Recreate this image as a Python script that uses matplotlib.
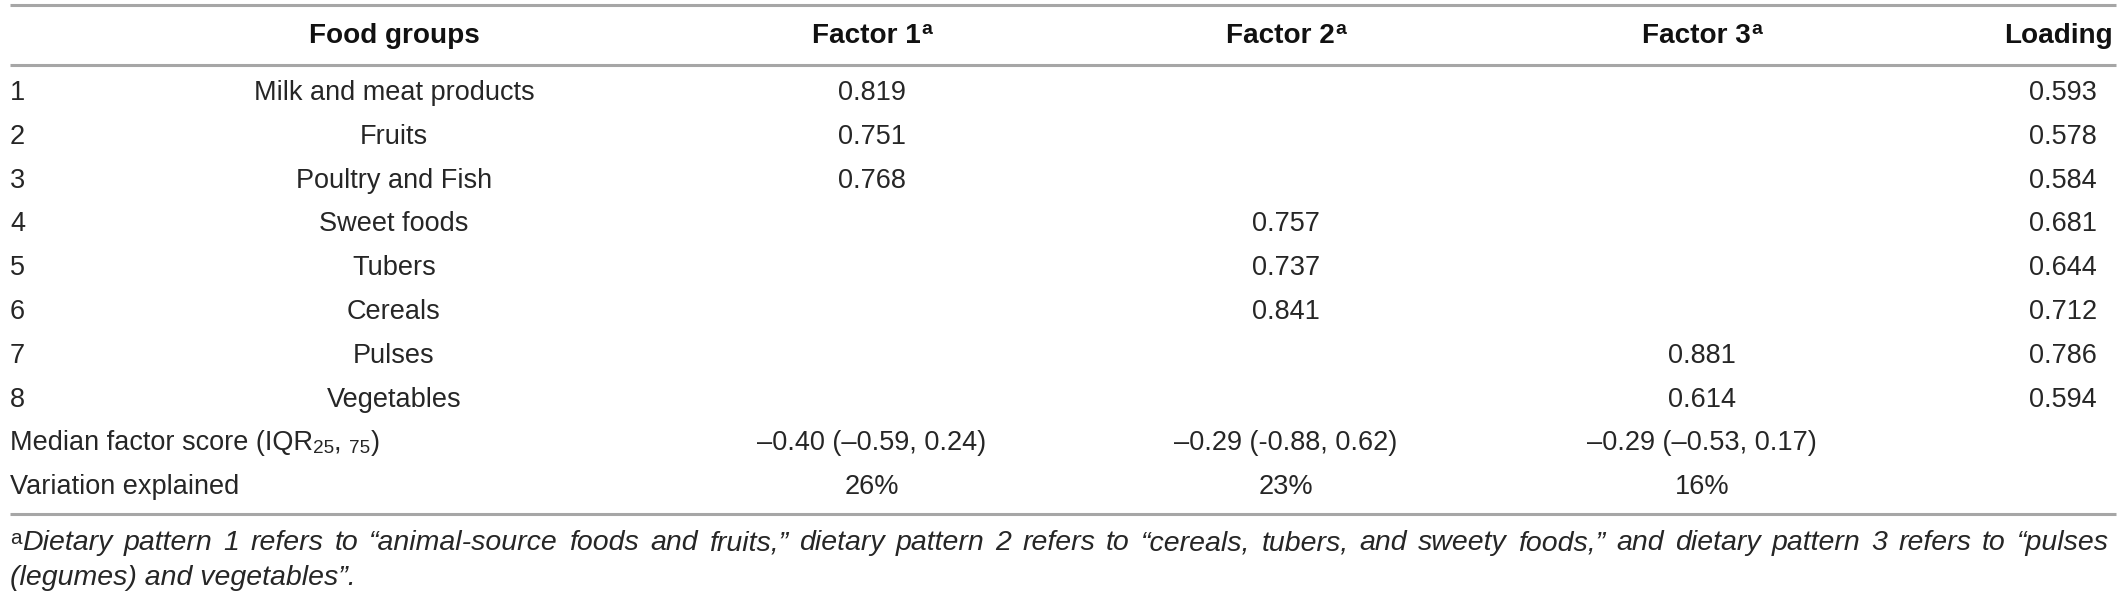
import matplotlib
matplotlib.use("Agg")
import matplotlib.pyplot as plt

# Table content
row_numbers = ["1", "2", "3", "4", "5", "6", "7", "8"]
food_groups = ["Milk and meat products", "Fruits", "Poultry and Fish", "Sweet foods",
               "Tubers", "Cereals", "Pulses", "Vegetables"]
factor1 = ["0.819", "0.751", "0.768", "", "", "", "", ""]
factor2 = ["", "", "", "0.757", "0.737", "0.841", "", ""]
factor3 = ["", "", "", "", "", "", "0.881", "0.614"]
loading = ["0.593", "0.578", "0.584", "0.681", "0.644", "0.712", "0.786", "0.594"]
median_scores = ["\u20130.40 (\u20130.59, 0.24)", "\u20130.29 (-0.88, 0.62)", "\u20130.29 (\u20130.53, 0.17)"]
variation = ["26%", "23%", "16%"]
footnote_1 = ("Dietary pattern 1 refers to \u201canimal-source foods and fruits,\u201d dietary pattern 2 "
              "refers to \u201ccereals, tubers, and sweety foods,\u201d and dietary pattern 3 refers to \u201cpulses")
footnote_2 = "(legumes) and vegetables\u201d."

W, H = 2122, 597
FAM = ["Liberation Sans", "DejaVu Sans"]
FS = 19.5
FS_NOTE = 20.5
TXT = "#262626"
LINE = "#a6a6a6"

fig = plt.figure(figsize=(W / 100, H / 100), dpi=100)
ax = fig.add_axes([0, 0, 1, 1])
ax.set_xlim(0, W)
ax.set_ylim(H, 0)
ax.axis("off")
fig.canvas.draw()
renderer = fig.canvas.get_renderer()


def width_of(t):
    return t.get_window_extent(renderer).width


def runs(x, y, parts, ha="left"):
    # parts: (text, size_scale, dy, weight)
    made = []
    for s, sc, dy, wt in parts:
        t = ax.text(0, y + dy, s, fontsize=FS * sc, family=FAM, weight=wt,
                    color=TXT if wt == "normal" else "#111111", va="center", ha="left")
        made.append(t)
    ws = [width_of(t) for t in made]
    total = sum(ws)
    x0 = x - total / 2 if ha == "center" else (x - total if ha == "right" else x)
    for t, w in zip(made, ws):
        t.set_x(x0)
        x0 += w


# Rules
for yy in (5, 65, 514):
    ax.plot([10, 2116], [yy, yy], color=LINE, lw=2.2, solid_capstyle="butt")

# Column positions
x_num, x_food, x_f1, x_f2, x_f3, x_load = 10, 394, 872, 1286, 1702, 2113

# Header
hy = 36
runs(x_food, hy, [("Food groups", 1.03, 0, "bold")], ha="center")
for xc, lab in zip((x_f1, x_f2, x_f3), ("Factor 1", "Factor 2", "Factor 3")):
    runs(xc, hy, [(lab, 1.03, 0, "bold"), ("a", 0.72, -6, "bold")], ha="center")
runs(x_load, hy, [("Loading", 1.03, 0, "bold")], ha="right")

# Body rows
y0, dy = 93, 43.8
for i in range(len(food_groups)):
    y = y0 + i * dy
    ax.text(x_num, y, row_numbers[i], fontsize=FS, family=FAM, color=TXT, va="center", ha="left")
    ax.text(x_food, y, food_groups[i], fontsize=FS, family=FAM, color=TXT, va="center", ha="center")
    for xc, col in zip((x_f1, x_f2, x_f3), (factor1, factor2, factor3)):
        if col[i]:
            ax.text(xc, y, col[i], fontsize=FS, family=FAM, color=TXT, va="center", ha="center")
    ax.text(x_load - 16, y, loading[i], fontsize=FS, family=FAM, color=TXT, va="center", ha="right")

y_med = y0 + 8 * dy
y_var = y0 + 9 * dy
runs(x_num, y_med, [("Median factor score (IQR", 1, 0, "normal"),
                    ("25", 0.7, 5, "normal"),
                    (", ", 1, 0, "normal"),
                    ("75", 0.7, 5, "normal"),
                    (")", 1, 0, "normal")])
ax.text(x_num, y_var, "Variation explained", fontsize=FS, family=FAM, color=TXT, va="center", ha="left")
for xc, m, v in zip((x_f1, x_f2, x_f3), median_scores, variation):
    ax.text(xc, y_med, m, fontsize=FS, family=FAM, color=TXT, va="center", ha="center")
    ax.text(xc, y_var, v, fontsize=FS, family=FAM, color=TXT, va="center", ha="center")

# Footnote, first line justified to the table width
fy1, fy2 = 543, 578
sup = ax.text(x_num, fy1 - 5, "a", fontsize=FS_NOTE * 0.72, family=FAM, color=TXT, va="center", ha="left")
start = x_num + width_of(sup) + 1
words = footnote_1.split(" ")
wt = [ax.text(0, fy1, w, fontsize=FS_NOTE, family=FAM, style="italic", color=TXT, va="center", ha="left")
      for w in words]
ww = [width_of(t) for t in wt]
gap = (2109 - start - sum(ww)) / (len(words) - 1)
xx = start
for t, w in zip(wt, ww):
    t.set_x(xx)
    xx += w + gap
ax.text(x_num, fy2, footnote_2, fontsize=FS_NOTE, family=FAM, style="italic", color=TXT,
        va="center", ha="left")

fig.savefig("out.png", dpi=100)
